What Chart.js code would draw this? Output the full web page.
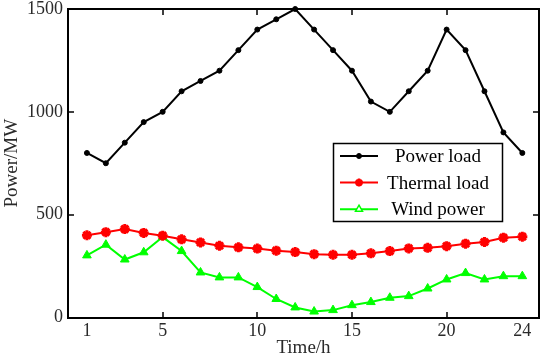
<!DOCTYPE html>
<html><head><meta charset="utf-8">
<script src="https://cdn.jsdelivr.net/npm/chart.js@4.4.1/dist/chart.umd.min.js"></script>
<style>html,body{margin:0;padding:0;background:#fff;overflow:hidden}</style>
</head><body>
<canvas id="c" width="550" height="361"></canvas>
<script>
const hours = [1,2,3,4,5,6,7,8,9,10,11,12,13,14,15,16,17,18,19,20,21,22,23,24];
const powerLoad = [800,750,850,950,1000,1100,1150,1200,1300,1400,1450,1500,1400,1300,1200,1050,1000,1100,1200,1400,1300,1100,900,800];
const thermalLoad = [400,415,430,411,398,380,365,349,341,335,325,318,308,305,305,312,323,336,339,347,359,367,388,393];
const windPower = [302,354,282,317,391,323,219,195,195,148,90,49,29,36,60,75,96,104,141,185,216,185,201,201];
const seriesNames = ['Power load','Thermal load','Wind power'];
const xTickValues = [1,5,10,15,20,24];
const xTickMarks = [5,10,15,20];
const yTickValues = [0,500,1000,1500];
const xTitle = 'Time/h';
const yTitle = 'Power/MW';

const pts = arr => hours.map((h,i)=>({x:h,y:arr[i]}));
const serif = "'Liberation Serif','Times New Roman',serif";
const textGray = '#2a2a2a';

function drawFrame(chart){
  const ctx=chart.ctx, xs=chart.scales.x, ys=chart.scales.y;
  const L=Math.round(xs.left), R=Math.round(xs.right), T=Math.round(ys.top), B=Math.round(ys.bottom);
  ctx.save();
  ctx.fillStyle='#000';
  ctx.fillRect(L-1,T-1,R-L+2,2);
  ctx.fillRect(L-1,B-1,R-L+2,2);
  ctx.fillRect(L-1,T-1,2,B-T+2);
  ctx.fillRect(R-1,T-1,2,B-T+2);
  xTickMarks.forEach(v=>{
    const px=Math.round(xs.getPixelForValue(v));
    ctx.fillRect(px-0.75,B-6,1.5,6);
    ctx.fillRect(px-0.75,T,1.5,6);
  });
  yTickValues.slice(1,-1).forEach(v=>{
    const py=Math.round(ys.getPixelForValue(v));
    ctx.fillRect(L,py-0.75,6,1.5);
    ctx.fillRect(R-6,py-0.75,6,1.5);
  });
  ctx.restore();
}

function marker(ctx, style, cx, cy, r, color, hollow){
  ctx.save();
  ctx.strokeStyle=color; ctx.fillStyle=hollow?'#fff':color;
  if(style==='circle'){
    ctx.lineWidth=1;
    ctx.beginPath(); ctx.arc(cx,cy,r,0,Math.PI*2); ctx.fill(); ctx.stroke();
  } else if(style==='triangle'){
    ctx.lineWidth=1.5;
    ctx.beginPath();
    ctx.moveTo(cx,cy-r); ctx.lineTo(cx+r*0.87,cy+r*0.5); ctx.lineTo(cx-r*0.87,cy+r*0.5); ctx.closePath();
    ctx.fill(); ctx.stroke();
  } else if(style==='star'){
    ctx.lineWidth=2.5;
    ctx.beginPath();
    for(let k=0;k<4;k++){
      const ang=k*Math.PI/4;
      ctx.moveTo(cx-r*Math.cos(ang),cy-r*Math.sin(ang));
      ctx.lineTo(cx+r*Math.cos(ang),cy+r*Math.sin(ang));
    }
    ctx.stroke();
  }
  ctx.restore();
}

function drawLegend(chart){
  const ctx=chart.ctx;
  const x0=333.5,y0=143.5,w=169,h=78;
  ctx.save();
  ctx.fillStyle='#fff'; ctx.fillRect(x0,y0,w,h);
  ctx.lineWidth=1.5; ctx.strokeStyle='#000'; ctx.strokeRect(x0,y0,w,h);
  ctx.font="19px "+serif;
  ctx.textAlign='center'; ctx.textBaseline='middle';
  chart.data.datasets.forEach((ds,i)=>{
    const yy=156+i*26.6;
    ctx.strokeStyle=ds.borderColor; ctx.lineWidth=2;
    ctx.beginPath(); ctx.moveTo(340,yy); ctx.lineTo(378,yy); ctx.stroke();
    const st=ds.pointStyle||'circle';
    marker(ctx, st, 359, yy, st==='circle'?2.5:4, ds.borderColor, st==='triangle');
    ctx.fillStyle='#000';
    ctx.fillText(ds.label, 438, yy+1);
  });
  ctx.restore();
}

const overlayPlugin = {
  id:'overlay',
  afterDraw(chart){
    drawFrame(chart);
    drawLegend(chart);
  }
};

function zeroPad(s){ s.paddingTop=0; s.paddingBottom=0; s.paddingLeft=0; s.paddingRight=0; }

new Chart(document.getElementById('c'),{
  type:'line',
  data:{datasets:[
    {label:seriesNames[0],data:pts(powerLoad),borderColor:'#000',backgroundColor:'#000',borderWidth:2,
     pointStyle:'circle',pointRadius:2.5,pointBorderWidth:1,pointBackgroundColor:'#000',clip:false},
    {label:seriesNames[1],data:pts(thermalLoad),borderColor:'#ff0000',backgroundColor:'#ff0000',borderWidth:2,
     pointStyle:'star',pointRadius:5,pointBorderWidth:3,pointBorderColor:'#ff0000',clip:false},
    {label:seriesNames[2],data:pts(windPower),borderColor:'#00ff00',backgroundColor:'#00ff00',borderWidth:2,
     pointStyle:'triangle',pointRadius:5,pointBorderWidth:1,pointBackgroundColor:'#00ff00',clip:false}
  ]},
  options:{
    responsive:false, animation:false, devicePixelRatio:1,
    layout:{padding:{top:9,right:11,left:0,bottom:0}},
    plugins:{legend:{display:false},tooltip:{enabled:false}},
    elements:{line:{tension:0}},
    scales:{
      x:{type:'linear',min:0,max:24.88,
        grid:{display:false,drawTicks:false},border:{display:false},
        afterBuildTicks:s=>{s.ticks=xTickValues.map(v=>({value:v}));},
        afterFit:s=>{s.height=43.5; zeroPad(s);},
        ticks:{autoSkip:false,maxRotation:0,padding:3,color:textGray,font:{family:serif,size:18},callback:v=>String(v)},
        title:{display:true,text:xTitle,color:textGray,font:{family:serif,size:19},padding:{top:0,bottom:2}}
      },
      y:{type:'linear',min:0,max:1500,
        grid:{display:false,drawTicks:false},border:{display:false},
        afterBuildTicks:s=>{s.ticks=yTickValues.map(v=>({value:v}));},
        afterFit:s=>{s.width=68; zeroPad(s);},
        ticks:{autoSkip:false,padding:5,color:textGray,font:{family:serif,size:18},callback:v=>String(v)},
        title:{display:true,text:yTitle,color:textGray,font:{family:serif,size:19},padding:{top:1,bottom:0}}
      }
    }
  },
  plugins:[overlayPlugin]
});
</script>
</body></html>
